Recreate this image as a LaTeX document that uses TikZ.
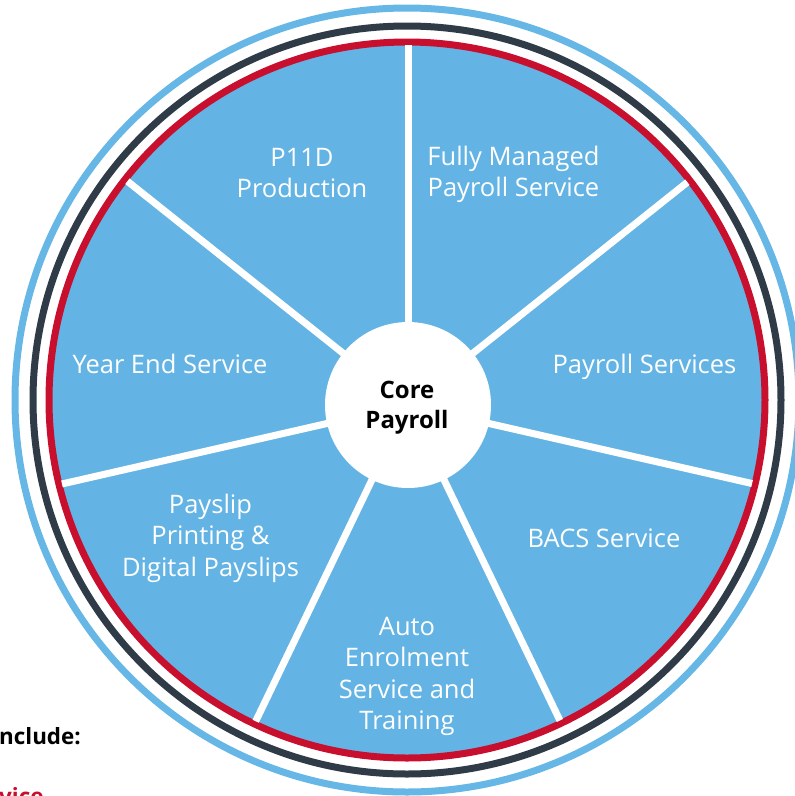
\documentclass[tikz,border=0pt]{standalone}
\usepackage{fontspec}
\setmainfont{Open Sans}
\definecolor{wheelblue}{HTML}{63B4E4}
\definecolor{ringblue}{HTML}{66B6E6}
\definecolor{ringdark}{HTML}{2F3C48}
\definecolor{ringred}{HTML}{C8102E}
\newcommand{\mlines}[1]{\begin{tabular}[t]{@{}c@{}}#1\end{tabular}}
\tikzset{
  seglabel/.style={text=white, inner sep=0pt, anchor=base,
    font=\fontsize{25.5}{31.5}\selectfont},
  corelabel/.style={text=black, inner sep=0pt, anchor=base,
    font=\bfseries\fontsize{24}{30}\selectfont},
  spoke/.style={draw=white, line width=7pt},
  ring/.style={line width=7pt},
  sidetext/.style={inner sep=0pt, anchor=base west,
    font=\bfseries\fontsize{22.4}{26}\selectfont}
}
\begin{document}
\begin{tikzpicture}[x=1pt,y=-1pt]
\useasboundingbox (0,0) rectangle (795,796);
\clip (0,0) rectangle (795,796);
\fill[white] (0,0) rectangle (795,796);
% rings and wheel
\coordinate (O) at (407,400);
\coordinate (C) at (408,405);
\draw[ring, draw=ringblue] (O) circle[radius=392];
\draw[ring, draw=ringdark] (O) circle[radius=374];
\fill[wheelblue] (O) circle[radius=356];
\draw[ring, draw=ringred] (O) circle[radius=358];
% spokes
\begin{scope}
\clip (O) circle[radius=355];
\foreach \k in {0,...,6}{
  \draw[spoke] (C) -- ++({90-\k*360/7}:-400);
}
\end{scope}
% centre
\node[circle, fill=white, minimum size=166pt, inner sep=0pt] (core) at (C) {};
\node[corelabel] (coretxt) at (407,398) {\mlines{Core\\Payroll}};
% segment labels
\node[seglabel] (p11d) at (302,166) {\mlines{P11D\\Production}};
\node[seglabel] (fully) at (513.5,165) {\mlines{Fully Managed\\Payroll Service}};
\node[seglabel] (payserv) at (644.5,373) {Payroll Services};
\node[seglabel] (bacs) at (604,547) {BACS Service};
\node[seglabel] (auto) at (407,635) {\mlines{Auto\\Enrolment\\Service and\\Training}};
\node[seglabel] (payslip) at (210.5,513) {\mlines{Payslip\\Printing \&\\Digital Payslips}};
\node[seglabel] (yearend) at (170,373) {Year End Service};
% cut-off side texts
\node[sidetext, text=black] (incl) at (-1,744) {nclude:};
\node[sidetext, text=ringred] (vice) at (-1,804) {vice};
\end{tikzpicture}
\end{document}
